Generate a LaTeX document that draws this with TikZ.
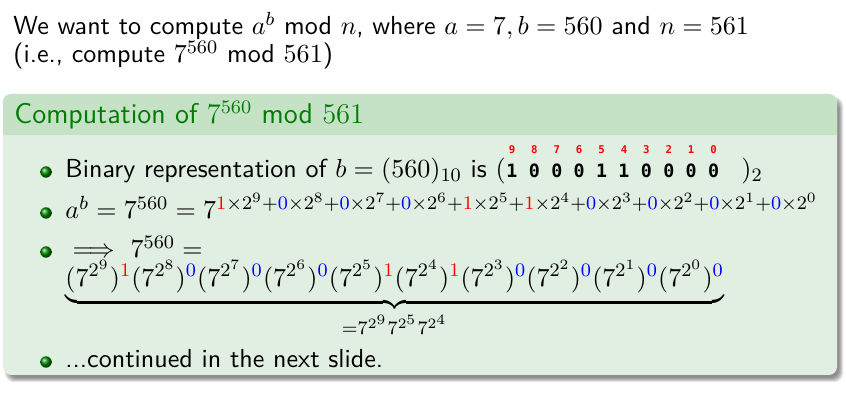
\documentclass[tikz,border=0pt]{standalone}
\usepackage{fontspec}
\newfontfamily\dvmono{DejaVu Sans Mono}
\usepackage{amsmath}
\definecolor{titlefg}{RGB}{0,125,0}
\definecolor{titlebg}{RGB}{197,226,199}
\definecolor{bodybg}{RGB}{224,239,226}
\definecolor{bitred}{RGB}{255,0,0}
\definecolor{bitblue}{RGB}{0,0,255}
\newcommand\rbit[1]{\textcolor{bitred}{#1}}
\newcommand\bbit[1]{\textcolor{bitblue}{#1}}
\begin{document}
\begin{tikzpicture}[x=0.42pt,y=-0.42pt,
  txt/.style={anchor=base west,inner sep=0pt,font=\sffamily\fontsize{10.95}{13.6}\selectfont},
  bitnum/.style={anchor=base,inner sep=0pt,font=\dvmono\bfseries\fontsize{7.7}{9}\selectfont},
  idxnum/.style={anchor=base,inner sep=0pt,text=bitred,font=\dvmono\bfseries\fontsize{4.5}{5}\selectfont},
  bulletball/.style={circle,inner sep=0pt,minimum size=4.8pt,shading=ball,ball color=green!55!black}]
\useasboundingbox (0,0) rectangle (846,405);
% shadow
\foreach \k in {0,...,4}
  \fill[black,opacity=0.11,rounded corners=3.6pt] ({9-\k},{101-\k}) rectangle ({839+\k},{378+\k});
% block
\fill[bodybg,rounded corners=3.4pt] (3,94) rectangle (837,375);
\fill[titlebg] (3,135) {[rounded corners=3.4pt] -- (3,94) -- (837,94)} -- (837,135) -- cycle;
% top text
\node[txt] (l1) at (13,35) {We want to compute $a^b$ mod $n$, where $a=7, b=560$ and $n=561$};
\node[txt] (l2) at (13,63) {(i.e., compute $7^{560}$ mod $561$)};
% title
\node[txt,text=titlefg,font=\sffamily\fontsize{12}{14}\selectfont] (ttl) at (14,123.5) {Computation of $7^{560}$ mod $561$};
% bullets
\node[bulletball] (b1) at (46,172) {};
\node[bulletball] (b2) at (46,213) {};
\node[bulletball] (b3) at (46,252) {};
\node[bulletball] (b4) at (46,362) {};
% item 1
\node[txt] (i1) at (65,178) {Binary representation of $b=(560)_{10}$ is $($};
\foreach \d [count=\i from 0] in {1,0,0,0,1,1,0,0,0,0}
  \node[bitnum] (d\i) at ({512+22.4*\i},178) {\d};
\foreach \n [count=\i from 0] in {9,8,7,6,5,4,3,2,1,0}
  \node[idxnum] (n\i) at ({512+22.4*\i},154) {\n};
\node[txt] (cl) at (741,178) {$)_2$};
% item 2
\node[txt] (i2) at (65,219) {$a^b=7^{560}=7^{\rbit{1}\times2^9+\bbit{0}\times2^8+\bbit{0}\times2^7+\bbit{0}\times2^6+\rbit{1}\times2^5+\rbit{1}\times2^4+\bbit{0}\times2^3+\bbit{0}\times2^2+\bbit{0}\times2^1+\bbit{0}\times2^0}$};
% item 3
\node[txt] (i3) at (65,258) {$\implies$\ $7^{560}=$};
\node[txt] (i3b) at (65,287) {$\underbrace{(7^{2^9})^{\rbit{1}}(7^{2^8})^{\bbit{0}}(7^{2^7})^{\bbit{0}}(7^{2^6})^{\bbit{0}}(7^{2^5})^{\rbit{1}}(7^{2^4})^{\rbit{1}}(7^{2^3})^{\bbit{0}}(7^{2^2})^{\bbit{0}}(7^{2^1})^{\bbit{0}}(7^{2^0})^{\bbit{0}}}_{=7^{2^9}7^{2^5}7^{2^4}}$};
% item 4
\node[txt] (i4) at (65,368) {...continued in the next slide.};
\end{tikzpicture}
\end{document}
